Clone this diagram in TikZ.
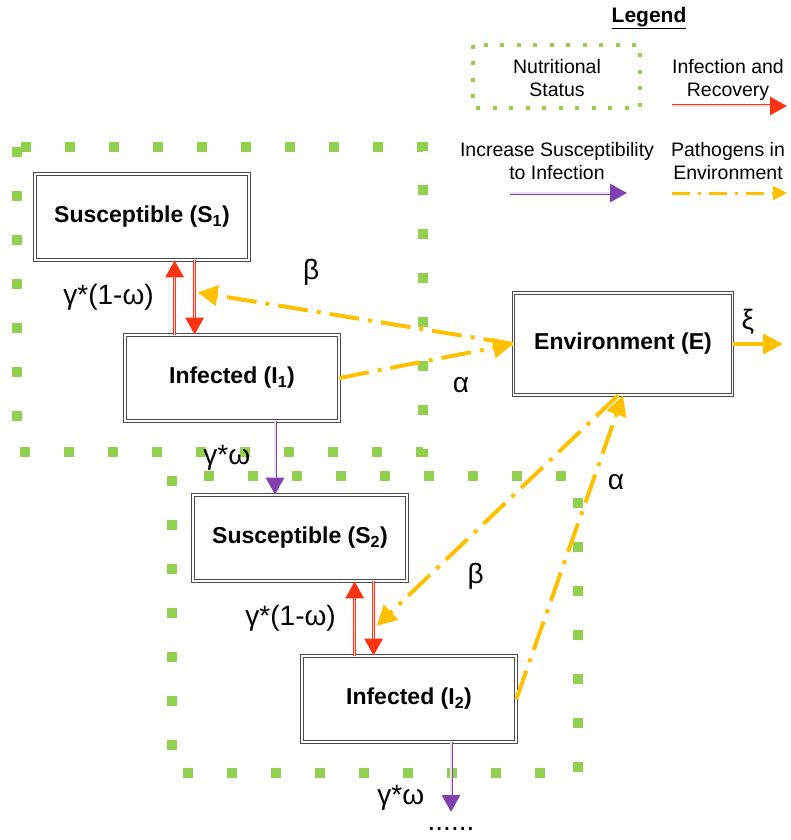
\documentclass[tikz,border=0pt]{standalone}
\usepackage{fontspec}
\setmainfont{Liberation Sans}
\usetikzlibrary{positioning,arrows.meta,calc}

\definecolor{nutgreen}{RGB}{146,208,80}
\definecolor{infred}{RGB}{255,51,17}
\definecolor{suspurple}{RGB}{128,64,176}
\definecolor{envyellow}{RGB}{255,192,0}

\tikzset{
  compbox/.style={draw=black!70,double,double distance=1.6pt,line width=0.8pt,fill=white,
    minimum width=214pt,minimum height=86pt,font=\bfseries\fontsize{23}{27}\selectfont},
  nutframe/.style={draw=nutgreen,line width=10pt,dash pattern=on 10pt off 34pt},
  legframe/.style={draw=nutgreen,line width=4pt,dash pattern=on 4pt off 12.5pt},
  redarr/.style={draw=infred,line width=3pt,-{Triangle[length=17pt,width=18pt]},
    postaction={draw=white!85!infred,line width=1.2pt,-,shorten >=17pt}},
  purarr/.style={draw=suspurple,line width=3pt,-{Triangle[length=17pt,width=18pt]},
    postaction={draw=white!85!suspurple,line width=1.2pt,-,shorten >=17pt}},
  yelarr/.style={draw=envyellow,line width=4pt,dash pattern=on 30pt off 9pt on 4pt off 9pt,
    -{Triangle[length=20pt,width=20pt]}},
  rate/.style={font=\fontsize{28}{32}\selectfont},
  legtext/.style={align=center,font=\fontsize{19.5}{23.5}\selectfont}
}

\begin{document}
\begin{tikzpicture}[x=1pt,y=-1pt]
        \useasboundingbox (0,0) rectangle (790,840);
        % nutritional status frames
        \draw[nutframe] (17,147) rectangle (423,452);
        \draw[nutframe] (172,476) rectangle (578,773);

        % compartments
        \node[compbox] (S1) at (142,217) {Susceptible (S\textsubscript{1})};
        \node[compbox] (I1) at (232,378) {Infected (I\textsubscript{1})};
        \node[compbox] (S2) at (300,538) {Susceptible (S\textsubscript{2})};
        \node[compbox] (I2) at (409,699) {Infected (I\textsubscript{2})};
        \node[compbox,minimum width=219pt,minimum height=102pt] (E) at (623,344) {Environment (E)};

        % infection and recovery
        \coordinate (u1) at ([xshift=50pt]I1.north west);
        \coordinate (d1) at ([xshift=70pt]I1.north west);
        \coordinate (u2) at ([xshift=53pt]I2.north west);
        \coordinate (d2) at ([xshift=72pt]I2.north west);
        \draw[redarr] (u1) -- (u1 |- S1.south) node[pos=0.5,left=16pt,rate]{γ*(1-ω)};
        \draw[redarr] (d1 |- S1.south) -- (d1);
        \draw[redarr] (u2) -- (u2 |- S2.south) node[pos=0.5,left=14pt,rate]{γ*(1-ω)};
        \draw[redarr] (d2 |- S2.south) -- (d2);

        % susceptibility
        \coordinate (o1) at (I1.south -| 275,0);
        \coordinate (o2) at (I2.south -| 451,0);
        \coordinate (next) at (451,812);
        \draw[purarr] (o1) -- (o1 |- S2.north) node[pos=0.5,left=20pt,rate]{γ*ω};
        \draw[purarr] (o2) -- (next) node[pos=0.8,left=22pt,rate]{γ*ω};
        \node[rate,below=12pt of next] (dots) {......};

        % pathogens in environment
        \coordinate (b1) at ($(d1 |- S1.south)!0.43!(d1)+(3,0)$);
        \coordinate (b2) at ($(d2 |- S2.south)!0.6!(d2)+(3,0)$);
        \coordinate (xiend) at (783,344);
        \draw[yelarr] (I1.east) -- (E.west) node[pos=0.7,below=18pt,rate]{α};
        \draw[yelarr] (E.west) -- (b1) node[pos=0.64,above=20pt,rate]{β};
        \draw[yelarr] ([xshift=-5pt]E.south) -- (b2) node[pos=0.59,below=26pt,rate]{β};
        \draw[yelarr] (I2.east) -- (E.south) node[pos=0.715,right=10pt,rate]{α};
        \draw[yelarr,dash pattern=] (E.east) -- (xiend) node[pos=0.3,above=4pt,rate]{ξ};

        % legend
        \node[font=\bfseries\fontsize{21}{25}\selectfont] (legtitle) at (649,18) {\underline{Legend}};
        \draw[legframe] (473,45) rectangle (640,108);
        \node[legtext] (legnut) at (557,78) {Nutritional\\Status};
        \node[legtext] (leginf) at (728,80) {Infection and\\Recovery};
        \node[legtext] (legsus) at (557,161) {Increase Susceptibility\\to Infection};
        \node[legtext] (legpat) at (728,161) {Pathogens in\\Environment};
        \coordinate (lra) at (672,106);
        \coordinate (lrb) at (787,106);
        \coordinate (lpa) at (510,193);
        \coordinate (lpb) at (627,193);
        \coordinate (lya) at (672,193);
        \coordinate (lyb) at (787,193);
        \draw[redarr] (lra) -- (lrb);
        \draw[purarr] (lpa) -- (lpb);
        \draw[yelarr,line width=3pt,dash pattern=on 18pt off 8pt on 3pt off 8pt,
          -{Triangle[length=14pt,width=14pt]}] (lya) -- (lyb);
\end{tikzpicture}
\end{document}
